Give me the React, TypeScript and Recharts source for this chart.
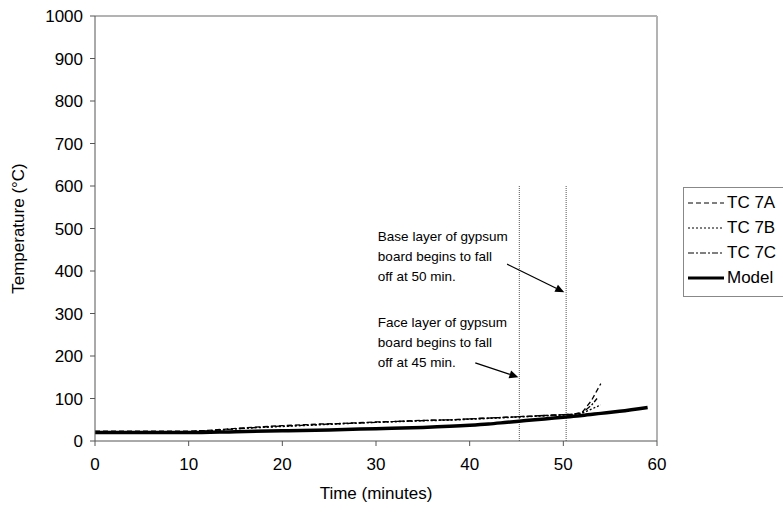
import React from "react";
import {
  LineChart,
  Line,
  XAxis,
  YAxis,
  ReferenceLine,
  ReferenceDot,
} from "recharts";

// thermocouple readings (minutes / °C)
const tcTime = [0, 4, 8, 10, 12, 14, 16, 18, 20, 22, 24, 26, 28, 30, 32, 34, 36, 38, 40, 42, 44, 46, 48, 50, 51, 52, 53, 54];
const tc7A = [23, 23, 23, 23, 25, 28, 31, 34, 36, 38, 40, 41, 43, 45, 46, 48, 49, 50, 52, 54, 56, 58, 60, 62, 63, 67, 95, 135];
const tc7B = [22, 22, 22, 22, 24, 27, 30, 32, 34, 36, 38, 40, 42, 44, 45, 47, 48, 49, 51, 53, 55, 57, 59, 61, 62, 65, 75, 85];
const tc7CTime = [0, 4, 8, 10, 12, 14, 16, 18, 20, 22, 24, 26, 28, 30, 32, 34, 36, 38, 40, 42, 44, 46, 48, 50, 51, 52, 53, 53.6];
const tc7C = [22, 22, 22, 22, 24, 27, 30, 33, 35, 37, 39, 41, 42, 44, 46, 47, 49, 50, 52, 54, 56, 58, 60, 62, 63, 66, 84, 100];

const modelTime = [0, 5, 10, 15, 20, 25, 30, 35, 40, 42, 44, 46, 48, 50, 52, 54, 56, 59];
const modelTemp = [20, 20, 20, 22, 24, 26, 29, 32, 37, 40, 44, 48, 52, 56, 60, 65, 70, 79];

const xTicks = [0, 10, 20, 30, 40, 50, 60];
const yTicks = [0, 100, 200, 300, 400, 500, 600, 700, 800, 900, 1000];

const faceNote = ["Face layer of gypsum", "board begins to fall", "off at 45 min."];
const baseNote = ["Base layer of gypsum", "board begins to fall", "off at 50 min."];

const FONT = "'Liberation Sans', Arial, sans-serif";

const toRows = (xs: number[], ys: number[]) => xs.map((t, i) => ({ t, v: ys[i] }));

const series = [
  { name: "TC 7A", data: toRows(tcTime, tc7A), dash: "5 3", width: 1.3 },
  { name: "TC 7B", data: toRows(tcTime, tc7B), dash: "2 2", width: 1.3 },
  { name: "TC 7C", data: toRows(tc7CTime, tc7C), dash: "6 2 2 2", width: 1.3 },
  { name: "Model", data: toRows(modelTime, modelTemp), dash: undefined, width: 3.5 },
];

const Arrow = (p: any) => {
  const { x1, y1, x2, y2 } = p;
  const ang = Math.atan2(y2 - y1, x2 - x1);
  const L = 9, W = 4;
  const bx = x2 - L * Math.cos(ang), by = y2 - L * Math.sin(ang);
  const pts = [
    [x2, y2],
    [bx + W * Math.sin(ang), by - W * Math.cos(ang)],
    [bx - W * Math.sin(ang), by + W * Math.cos(ang)],
  ].map((q) => q.join(",")).join(" ");
  return (
    <g>
      <line x1={x1} y1={y1} x2={bx} y2={by} stroke="#000" strokeWidth={1.3} />
      <polygon points={pts} fill="#000" />
    </g>
  );
};

const note = (lines: string[]) => (p: any) => (
  <text x={p.cx} y={p.cy} fontFamily={FONT} fontSize={13.5} fill="#000">
    {lines.map((l, i) => (
      <tspan key={i} x={p.cx} dy={i === 0 ? 0 : 20}>{l}</tspan>
    ))}
  </text>
);

const Legendbox = () => (
  <div
    style={{
      position: "absolute",
      left: 683,
      top: 187,
      width: 120,
      height: 108,
      border: "1px solid #888",
      background: "#fff",
      fontFamily: FONT,
      fontSize: 17,
    }}
  >
    {series.map((s, i) => (
      <div key={s.name} style={{ position: "absolute", left: 4, top: 4 + i * 25, height: 22, display: "flex", alignItems: "center" }}>
        <svg width={36} height={10}>
          <line x1={0} y1={5} x2={36} y2={5} stroke="#000" strokeWidth={s.width === 3.5 ? 3 : 1} strokeDasharray={s.dash} />
        </svg>
        <span style={{ marginLeft: 3 }}>{s.name}</span>
      </div>
    ))}
  </div>
);

export default function App() {
  return (
    <div style={{ position: "absolute", left: 0, top: 0, width: 783, height: 515, background: "#fff" }}>
      <LineChart width={783} height={515} margin={{ top: 16, right: 126, bottom: 34, left: 35 }}>
        <XAxis
          type="number"
          dataKey="t"
          domain={[0, 60]}
          ticks={xTicks}
          allowDuplicatedCategory={false}
          stroke="#555"
          tickSize={5}
          tickMargin={12}
          height={40}
          tick={{ fill: "#000", fontSize: 17, fontFamily: FONT }}
          label={{
            content: (p: any) => (
              <text x={p.viewBox.x + p.viewBox.width / 2} y={p.viewBox.y + 58} textAnchor="middle" fontFamily={FONT} fontSize={17} fill="#000">
                Time (minutes)
              </text>
            ),
          }}
        />
        <YAxis
          type="number"
          domain={[0, 1000]}
          ticks={yTicks}
          stroke="#555"
          tickSize={5}
          tickMargin={7}
          width={60}
          tick={{ fill: "#000", fontSize: 17, fontFamily: FONT }}
          label={{
            content: (p: any) => {
              const cx = p.viewBox.x - 17;
              const cy = p.viewBox.y + p.viewBox.height / 2;
              return (
                <text x={cx} y={cy} transform={`rotate(-90 ${cx} ${cy})`} textAnchor="middle" dominantBaseline="central" fontFamily={FONT} fontSize={17} fill="#000">
                  Temperature (°C)
                </text>
              );
            },
          }}
        />
        <ReferenceLine y={1000} stroke="#b3b3b3" strokeWidth={2} />
        <ReferenceLine x={60} stroke="#b3b3b3" strokeWidth={2} />
        <ReferenceLine segment={[{ x: 45.3, y: 0 }, { x: 45.3, y: 600 }]} stroke="#555" strokeDasharray="1 1" />
        <ReferenceLine segment={[{ x: 50.3, y: 0 }, { x: 50.3, y: 600 }]} stroke="#555" strokeDasharray="1 1" />
        <ReferenceLine segment={[{ x: 40.6, y: 184 }, { x: 45.2, y: 150 }]} shape={Arrow} />
        <ReferenceLine segment={[{ x: 44.0, y: 416 }, { x: 50.1, y: 350 }]} shape={Arrow} />
        <ReferenceDot x={30.2} y={268} r={0} shape={note(faceNote)} />
        <ReferenceDot x={30.2} y={470} r={0} shape={note(baseNote)} />
        {series.map((s) => (
          <Line
            key={s.name}
            data={s.data}
            dataKey="v"
            name={s.name}
            type={s.name === "Model" ? "monotone" : "linear"}
            stroke="#000"
            strokeWidth={s.width}
            strokeDasharray={s.dash}
            dot={false}
            isAnimationActive={false}
          />
        ))}
      </LineChart>
      <Legendbox />
    </div>
  );
}
